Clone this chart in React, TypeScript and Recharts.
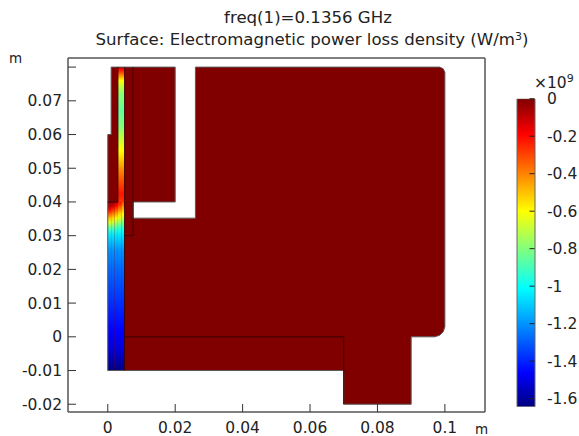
import { Area, Bar, BarChart, ComposedChart, Line, XAxis, YAxis } from "recharts";

const xDomain = [-0.0118, 0.1119];
const yDomain = [-0.0223, 0.0827];
const xTicks = [0, 0.02, 0.04, 0.06, 0.08, 0.1];
const yTicks = [-0.02, -0.01, 0, 0.01, 0.02, 0.03, 0.04, 0.05, 0.06, 0.07, 0.08];

// domain silhouette, read left to right
const bodyX = [0, 0.001, 0.001, 0.0075, 0.0075, 0.026, 0.026, 0.07, 0.07, 0.09, 0.09, 0.097, 0.0985, 0.0995, 0.1, 0.1];
const bodyLow = [-0.01, -0.01, -0.01, -0.01, -0.01, -0.01, -0.01, -0.01, -0.02, -0.02, 0, 0, 0.0005, 0.0015, 0.003, 0.003];
const bodyHigh = [0.06, 0.06, 0.08, 0.08, 0.0352, 0.0352, 0.08, 0.08, 0.08, 0.08, 0.08, 0.08, 0.08, 0.0795, 0.0785, 0.0785];

const blockX = [0.0075, 0.02];
const blockLow = [0.04, 0.04];
const blockHigh = [0.08, 0.08];

// field in the thin conductor, values in 1e9 W/m^3
const stripeY = [0.08, 0.0793, 0.0784, 0.0772, 0.076, 0.0742, 0.0722, 0.0672, 0.0624, 0.0597, 0.0552, 0.0522, 0.0492, 0.0463, 0.0424, 0.04];
const stripeValues = [-0.05, -0.2, -0.3, -0.45, -0.6, -0.7, -0.78, -0.85, -0.8, -0.72, -0.6, -0.5, -0.4, -0.32, -0.22, -0.27];

const columnY = [0.04, 0.0388, 0.0376, 0.0364, 0.0352, 0.034, 0.0328, 0.0317, 0.03, 0.0257, 0.0198, 0.0079, 0.002, -0.004, -0.01];
const columnLower = [-1.06, -1.2, -1.28, -1.4, -1.46, -1.52, -1.64];
const columnHot = [
  [-0.02, -0.08, -0.2, -0.35, -0.5, -0.65, -0.8, -0.93],
  [-0.04, -0.12, -0.26, -0.4, -0.54, -0.68, -0.82, -0.94],
  [-0.08, -0.2, -0.33, -0.46, -0.59, -0.72, -0.85, -0.95],
  [-0.2, -0.3, -0.42, -0.54, -0.65, -0.76, -0.88, -0.97],
  [-0.3, -0.4, -0.5, -0.6, -0.7, -0.8, -0.9, -0.98],
];
const columnEdges = [0, 0.001, 0.002, 0.003, 0.004, 0.005];

// internal boundaries and the outer outline
const innerLines = [
  [[0.003, 0.08], [0.003, 0.04], [0, 0.04]],
  [[0.005, 0.08], [0.005, -0.01]],
  [[0.0075, 0.08], [0.0075, 0.03], [0.005, 0.03]],
  [[0.005, 0], [0.07, 0], [0.07, -0.02]],
];
const outline = [
  [0, -0.01], [0, 0.06], [0.001, 0.06], [0.001, 0.08], [0.02, 0.08], [0.02, 0.04], [0.0075, 0.04], [0.0075, 0.0352],
  [0.026, 0.0352], [0.026, 0.08], [0.0985, 0.08], [0.0995, 0.0795], [0.1, 0.0785], [0.1, 0.003], [0.0995, 0.0015],
  [0.0985, 0.0005], [0.097, 0], [0.09, 0], [0.09, -0.02], [0.07, -0.02], [0.07, -0.01], [0, -0.01],
];

const barMin = -1.643;
const barTicks = [0, -0.2, -0.4, -0.6, -0.8, -1, -1.2, -1.4, -1.6];
const jetKnots = [0, 0.11, 0.385, 0.635, 0.885, 1];
const jetColors = [[0, 0, 127], [0, 0, 255], [0, 255, 255], [255, 255, 0], [255, 0, 0], [127, 0, 0]];

const jet = (value: number) => {
  const t = Math.min(1, Math.max(0, (value - barMin) / -barMin));
  let i = 0;
  while (i < jetKnots.length - 2 && t > jetKnots[i + 1]) i++;
  const f = (t - jetKnots[i]) / (jetKnots[i + 1] - jetKnots[i]);
  const c = jetColors[i].map((a, k) => Math.round(a + (jetColors[i + 1][k] - a) * f));
  return `rgb(${c[0]},${c[1]},${c[2]})`;
};

const FONT = "'DejaVu Sans', sans-serif";
const TEXT = "#222";
const FRAME = "#555";
const DARK = "#800000";

const toPath = (xs: number[], low: number[], high: number[]) => xs.map((x, i) => ({ x, range: [low[i], high[i]] }));
const toPoints = (pts: number[][]) => pts.map(([x, y]) => ({ x, y }));

const bodyData = toPath(bodyX, bodyLow, bodyHigh);
const blockData = toPath(blockX, blockLow, blockHigh);

const Gradient = ({ id, ys, values }: { id: string; ys: number[]; values: number[] }) => (
  <linearGradient id={id} x1="0" y1="0" x2="0" y2="1">
    {ys.map((y, i) => (
      <stop key={i} offset={(ys[0] - y) / (ys[0] - ys[ys.length - 1])} stopColor={jet(values[i])} />
    ))}
  </linearGradient>
);

const tickFont = { fontFamily: FONT, fontSize: 15.5, fill: TEXT };

export default function App() {
  return (
    <div style={{ position: "absolute", left: 0, top: 0, width: 579, height: 436, background: "#fff" }}>
      <ComposedChart width={579} height={436} margin={{ top: 57, right: 93, bottom: 0, left: 0 }}>
        <defs>
          <Gradient id="stripe" ys={stripeY} values={stripeValues} />
          {columnHot.map((hot, i) => (
            <Gradient key={i} id={`column${i}`} ys={columnY} values={[...hot, ...columnLower]} />
          ))}
        </defs>

        <XAxis type="number" dataKey="x" domain={xDomain} ticks={xTicks} interval={0} allowDataOverflow height={24}
          tickSize={-8} tickMargin={18} tick={tickFont} tickFormatter={(v) => String(v)}
          stroke={FRAME} axisLine={{ stroke: FRAME, strokeWidth: 1.5 }} tickLine={{ stroke: "#333" }} />
        <XAxis xAxisId="top" orientation="top" type="number" dataKey="x" domain={xDomain} ticks={xTicks} interval={0} allowDataOverflow height={1}
          tickSize={-8} tick={false} axisLine={{ stroke: FRAME, strokeWidth: 1.5 }} tickLine={{ stroke: "#333" }} />
        <YAxis type="number" domain={yDomain} ticks={yTicks} interval={0} allowDataOverflow width={68}
          tickSize={-8} tickMargin={14} tick={tickFont} tickFormatter={(v) => (v === 0.08 ? "" : String(v))}
          axisLine={{ stroke: FRAME, strokeWidth: 1.5 }} tickLine={{ stroke: "#333" }} />
        <YAxis yAxisId="right" orientation="right" type="number" domain={yDomain} ticks={yTicks} interval={0} allowDataOverflow width={1}
          tickSize={-8} tick={false} axisLine={{ stroke: FRAME, strokeWidth: 1.5 }} tickLine={{ stroke: "#333" }} />

        <Area data={bodyData} dataKey="range" type="linear" stroke="none" fill={DARK} fillOpacity={1} dot={false} activeDot={false} isAnimationActive={false} />
        <Area data={blockData} dataKey="range" type="linear" stroke="none" fill={DARK} fillOpacity={1} dot={false} activeDot={false} isAnimationActive={false} />
        {columnHot.map((_, i) => (
          <Area key={i}
            data={toPath([columnEdges[i], columnEdges[i + 1]], [-0.01, -0.01], [0.04, 0.04])}
            dataKey="range" type="linear" stroke="none" fill={`url(#column${i})`} fillOpacity={1} dot={false} activeDot={false} isAnimationActive={false} />
        ))}
        <Area data={toPath([0.003, 0.005], [0.04, 0.04], [0.08, 0.08])} dataKey="range" type="linear" stroke="none" fill="url(#stripe)" fillOpacity={1} dot={false} activeDot={false} isAnimationActive={false} />

        <Line data={toPoints(outline)} dataKey="y" type="linear" stroke="#5a5a5a" strokeWidth={1} dot={false} activeDot={false} isAnimationActive={false} />
        {innerLines.map((pts, i) => (
          <Line key={i} data={toPoints(pts)} dataKey="y" type="linear" stroke="#3a0000" strokeWidth={1} dot={false} activeDot={false} isAnimationActive={false} />
        ))}

        <text x={308} y={23} textAnchor="middle" fontFamily={FONT} fontSize={16.6} fill={TEXT}>freq(1)=0.1356 GHz</text>
        <text x={312} y={45} textAnchor="middle" fontFamily={FONT} fontSize={16.6} fill={TEXT}>
          Surface: Electromagnetic power loss density (W/m<tspan dy={-5} fontSize={11}>3</tspan><tspan dy={5}>)</tspan>
        </text>
        <text x={9} y={63} fontFamily={FONT} fontSize={13.5} fill={TEXT}>m</text>
        <text x={475} y={434} fontFamily={FONT} fontSize={13.5} fill={TEXT}>m</text>
        <text x={534} y={88} fontFamily={FONT} fontSize={15.5} fill={TEXT}>
          ×10<tspan dy={-6} fontSize={11}>9</tspan>
        </text>
      </ComposedChart>

      <div style={{ position: "absolute", left: 500, top: 90 }}>
        <BarChart width={79} height={330} data={[{ name: "scale", value: barMin }]} barCategoryGap={0}
          margin={{ top: 8.7, right: 0, bottom: 13.3, left: 0 }}>
          <defs>
            <linearGradient id="jetBar" x1="0" y1="1" x2="0" y2="0">
              {jetKnots.map((k, i) => (
                <stop key={i} offset={k} stopColor={`rgb(${jetColors[i].join(",")})`} />
              ))}
            </linearGradient>
          </defs>
          <XAxis dataKey="name" hide />
          <YAxis type="number" domain={[barMin, 0]} ticks={barTicks} interval={0} allowDataOverflow width={17}
            tickSize={-5} tick={false} axisLine={false} tickLine={{ stroke: "#222" }} />
          <YAxis yAxisId="labels" orientation="right" type="number" domain={[barMin, 0]} ticks={barTicks} interval={0} allowDataOverflow width={44.5}
            tickSize={-5} tickMargin={17.5} tick={tickFont} tickFormatter={(v) => String(v)} axisLine={false} tickLine={{ stroke: "#222" }} />
          <Bar dataKey="value" fill="url(#jetBar)" stroke="#666" strokeWidth={1} isAnimationActive={false} />
        </BarChart>
      </div>
    </div>
  );
}
